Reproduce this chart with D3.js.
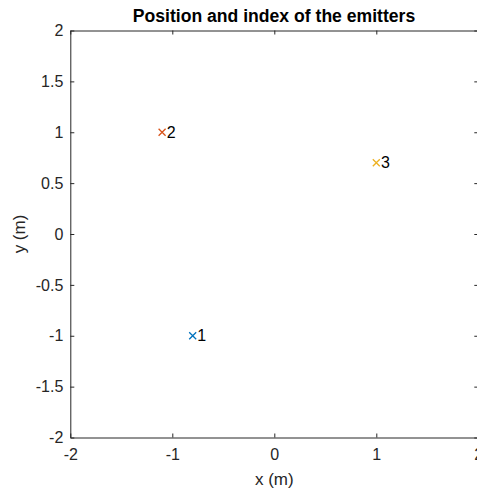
<!DOCTYPE html>
<html>
<head>
<meta charset="utf-8">
<script src="https://cdn.jsdelivr.net/npm/d3@7/dist/d3.min.js"></script>
<style>
  html, body { margin: 0; padding: 0; background: #fff; }
  svg { display: block; font-family: "Liberation Sans", Arial, sans-serif; }
</style>
</head>
<body>
<svg id="chart" width="477" height="492"></svg>
<script>
// Emitter positions (metres) and their indices
const emitterIndex = [1, 2, 3];
const emitterX = [-0.8, -1.1, 1.0];
const emitterY = [-1.0, 1.0, 0.7];
const emitterColor = ["#0072BD", "#D95319", "#EDB120"];

const xTicks = [-2, -1, 0, 1, 2];
const yTicks = [-2, -1.5, -1, -0.5, 0, 0.5, 1, 1.5, 2];

const svg = d3.select("#chart");
const plot = { left: 70.3, right: 478.3, top: 30.5, bottom: 437.5 };

const x = d3.scaleLinear().domain([-2, 2]).range([plot.left, plot.right]);
const y = d3.scaleLinear().domain([-2, 2]).range([plot.bottom, plot.top]);

const axisColor = "#262626";
const tickLen = 4;
const fmt = d => String(d).replace("−", "-");

// Box axes with ticks pointing inward on all sides
const g = svg.append("g");

const bottomAxis = d3.axisBottom(x).tickValues(xTicks).tickSizeInner(-tickLen).tickSizeOuter(0).tickPadding(11).tickFormat(fmt);
const topAxis = d3.axisTop(x).tickValues(xTicks).tickSizeInner(-tickLen).tickSizeOuter(0).tickFormat("");
const leftAxis = d3.axisLeft(y).tickValues(yTicks).tickSizeInner(-tickLen).tickSizeOuter(0).tickPadding(7).tickFormat(fmt);
const rightAxis = d3.axisRight(y).tickValues(yTicks).tickSizeInner(-tickLen).tickSizeOuter(0).tickFormat("");

function style(sel) {
  sel.attr("font-family", null).attr("font-size", null);
  sel.select(".domain").attr("stroke", axisColor).attr("stroke-width", 1);
  sel.selectAll(".tick line").attr("stroke", axisColor).attr("stroke-width", 1);
  sel.selectAll(".tick text").attr("fill", "#262626").style("font-size", "16px");
}

g.append("g").attr("transform", `translate(0,${plot.bottom})`).call(bottomAxis).call(style);
g.append("g").attr("transform", `translate(0,${plot.top})`).call(topAxis).call(style);
g.append("g").attr("transform", `translate(${plot.left},0)`).call(leftAxis).call(style);
g.append("g").attr("transform", `translate(${plot.right},0)`).call(rightAxis).call(style);

// Emitter markers ('x') and their index labels
const data = emitterIndex.map((k, i) => ({ k, x: emitterX[i], y: emitterY[i], c: emitterColor[i] }));
const s = 3.5;
const marks = svg.append("g");
data.forEach(d => {
  const cx = x(d.x), cy = y(d.y);
  marks.append("path")
    .attr("d", `M${cx - s},${cy - s}L${cx + s},${cy + s}M${cx - s},${cy + s}L${cx + s},${cy - s}`)
    .attr("stroke", d.c).attr("stroke-width", 1.3).attr("fill", "none");
  marks.append("text")
    .attr("x", x(d.x + 0.045)).attr("y", cy)
    .attr("dominant-baseline", "central")
    .style("font-size", "16px").attr("fill", "#000")
    .text(d.k);
});

// Title and axis labels
svg.append("text").attr("x", (plot.left + plot.right) / 2 - 0.3).attr("y", 22)
  .attr("text-anchor", "middle").style("font-size", "17.6px").style("font-weight", "bold")
  .attr("fill", "#000").text("Position and index of the emitters");

svg.append("text").attr("x", (plot.left + plot.right) / 2).attr("y", 485)
  .attr("text-anchor", "middle").style("font-size", "17px").attr("fill", "#262626").text("x (m)");

svg.append("text").attr("transform", `translate(25,${(plot.top + plot.bottom) / 2}) rotate(-90)`)
  .attr("text-anchor", "middle").style("font-size", "17px").attr("fill", "#262626").text("y (m)");
</script>
</body>
</html>
